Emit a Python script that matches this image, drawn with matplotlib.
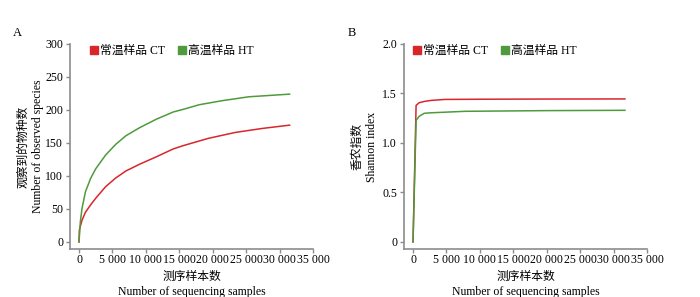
import matplotlib
matplotlib.use("Agg")
import matplotlib.pyplot as plt
from matplotlib.lines import Line2D

plt.rcParams['font.family'] = ['Liberation Serif', 'Noto Sans CJK SC']
plt.rcParams['font.size'] = 8.5

# Panel A: observed species rarefaction
a_x_ct = [0, 50, 450, 960, 1720, 2480, 4000, 5500, 7020, 9040, 11560, 14100, 15600,
          19350, 23400, 27400, 31500]
a_y_ct = [0, 18, 33, 45, 56, 66, 84, 97, 107.6, 117.7, 129, 141, 146,
          157, 166, 172, 177]
a_x_ht = [0, 200, 450, 960, 1720, 2480, 4000, 5500, 7020, 9040, 11560, 14100, 15600,
          18000, 21360, 25400, 31500]
a_y_ht = [0, 31, 51, 76, 96, 110.6, 132, 148, 161, 173, 186, 197, 201,
          208, 214, 220, 224]

# Panel B: Shannon index
b_x_ct = [0, 460, 920, 1700, 2700, 4740, 10000, 20000, 31700]
b_y_ct = [0, 1.38, 1.407, 1.42, 1.43, 1.44, 1.442, 1.444, 1.445]
b_x_ht = [0, 460, 920, 1680, 2700, 7800, 20000, 31700]
b_y_ht = [0, 1.228, 1.27, 1.30, 1.305, 1.32, 1.327, 1.33]

series_names = ['常温样品 CT', '高温样品 HT']
x_ticks = [0, 5000, 10000, 15000, 20000, 25000, 30000, 35000]
x_ticklabels = ['0', '5 000', '10 000', '15 000', '20 000', '25 000', '30 000', '35 000']
a_yticks = [0, 50, 100, 150, 200, 250, 300]
b_yticks = [0, 0.5, 1.0, 1.5, 2.0]
b_yticklabels = ['0', '0.5', '1.0', '1.5', '2.0']

red = '#d9262b'
green = '#4e9a3c'
spine = '#8c8c8c'

fig = plt.figure(figsize=(7.0, 2.97), dpi=100)
axA = fig.add_axes([70/700, 1-249/297, 243/700, 205/297])
axB = fig.add_axes([404/700, 1-249/297, 243/700, 205/297])


def style(ax, leg_x):
    for s in ['top', 'right']:
        ax.spines[s].set_visible(False)
    for s in ['left', 'bottom']:
        ax.spines[s].set_color(spine)
        ax.spines[s].set_linewidth(1.2)
    ax.tick_params(direction='out', length=3, width=1, color=spine, pad=2)
    ax.tick_params(axis='x', pad=0.5)
    ax.set_xticks(x_ticks)
    ax.set_xticklabels(x_ticklabels)
    ax.set_xlim(-1350, 35000)
    ax.set_xlabel('测序样本数\nNumber of sequencing samples', linespacing=1.35, labelpad=3.5)
    handles = [Line2D([], [], marker='s', color='none', markerfacecolor=red, markeredgecolor=red, markersize=5.5),
               Line2D([], [], marker='s', color='none', markerfacecolor=green, markeredgecolor=green, markersize=5.5)]
    ax.legend(handles, series_names, ncol=2, loc='center left', bbox_to_anchor=(leg_x, 0.966),
              frameon=False, handletextpad=0.0, columnspacing=1.0, handlelength=1.0,
              borderpad=0, borderaxespad=0, fontsize=8.5)


axA.plot(a_x_ct, a_y_ct, color=red, lw=1.1)
axA.plot(a_x_ht, a_y_ht, color=green, lw=1.1)
style(axA, 0.074)
axA.set_ylim(-10.7, 300)
axA.set_yticks(a_yticks)
axA.set_ylabel('观察到的物种数\nNumber of observed species', linespacing=1.2)
axA.yaxis.set_label_coords(-0.109, 0.5)

axB.plot(b_x_ct, b_y_ct, color=red, lw=1.1)
axB.plot(b_x_ht, b_y_ht, color=green, lw=1.1)
style(axB, 0.028)
axB.set_ylim(-0.071, 2.0)
axB.set_yticks(b_yticks)
axB.set_yticklabels(b_yticklabels)
axB.set_ylabel('香农指数\nShannon index', linespacing=1.2)
axB.yaxis.set_label_coords(-0.108, 0.5)

fig.text(13/700, 1-33/297, 'A', fontsize=9, va='center')
fig.text(348/700, 1-33/297, 'B', fontsize=9, va='center')

fig.savefig('out.png', dpi=100)
